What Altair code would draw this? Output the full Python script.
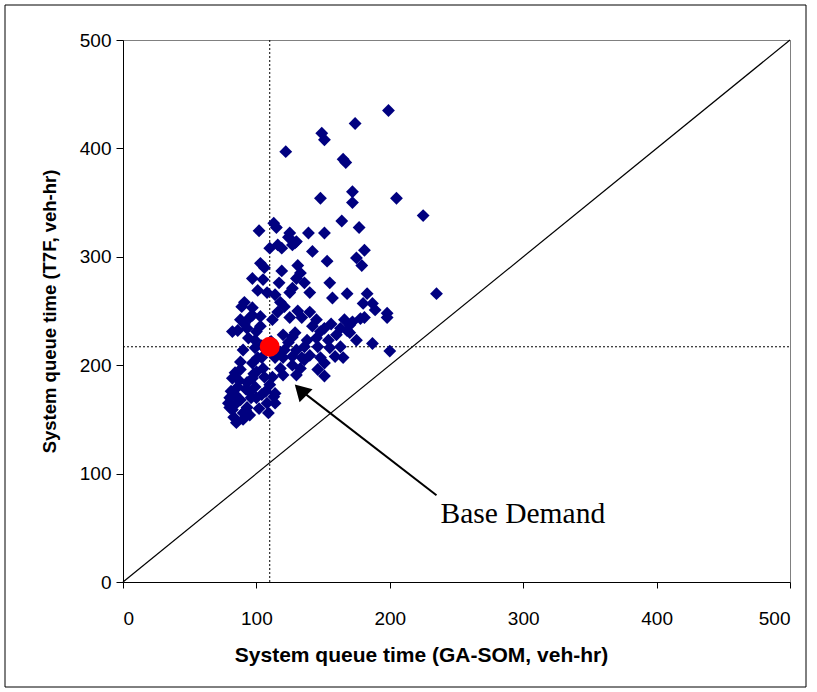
import altair as alt
import pandas as pd

# GA-SOM vs T7F system queue time (veh-hr)
ga_som = [199, 174, 149, 151, 122, 165, 167, 172, 148, 205, 172, 225, 164, 235,
          177, 102, 113, 115, 125, 124, 130, 139, 151, 116,
          110, 119, 127, 129, 142, 181, 153, 175, 179, 103, 106, 119, 131, 133,
          97, 105, 117, 130, 136, 155, 101, 108, 114, 125, 127, 140, 157, 168, 183,
          91, 89, 97, 118, 121, 116, 125, 134, 140, 145, 180, 187, 189, 198, 198,
          181, 166, 172, 88, 95, 103, 112, 82, 86, 93, 100, 94, 99, 129, 138, 148,
          151, 145, 154, 160, 163, 168, 170, 175, 187, 200, 163, 155, 146, 136,
          130, 121, 90, 99, 88, 97, 101, 105, 114, 120, 127, 134, 140, 148, 151,
          159, 165, 133, 127, 118, 120, 112, 106, 100, 97, 82, 86, 93, 99, 110,
          114, 104, 95, 84, 79, 88, 93, 108, 114, 82, 80, 90, 95, 109, 151, 130,
          85, 83, 90, 92, 80, 85, 102, 100, 104, 118, 124, 127, 104,
          103, 91, 97, 131, 111, 120, 88, 84, 92, 96, 107, 113, 87, 81, 98,
          142, 156, 170, 178, 136, 146]
t7f = [435, 423, 414, 408, 397, 390, 387, 360, 354, 354, 350, 338, 333, 266,
       327, 324, 331, 327, 322, 318, 314, 322, 322, 311,
       308, 308, 311, 313, 305, 306, 296, 299, 292, 294, 290, 287, 292, 285,
       280, 279, 276, 280, 276, 276, 269, 267, 265, 267, 271, 267, 262, 266, 266,
       258, 254, 253, 258, 254, 249, 244, 244, 249, 242, 257, 257, 251, 248, 244,
       244, 242, 240, 242, 244, 245, 242, 231, 232, 234, 231, 225, 223, 230, 223, 231,
       234, 225, 223, 228, 234, 232, 230, 223, 220, 213, 217, 216, 217, 217,
       214, 214, 214, 216, 203, 202, 207, 197, 207, 207, 208, 207, 209, 207, 202,
       208, 207, 197, 200, 197, 191, 189, 189, 194, 188, 188, 180, 184, 180, 182,
       174, 173, 175, 173, 165, 168, 161, 165, 165, 159, 161, 156, 154, 156, 190, 191,
       147, 152, 150, 158, 170, 165, 160, 170, 218, 212, 221, 226, 207,
       236, 238, 246, 250, 222, 228, 196, 193, 178, 170, 176, 171, 186, 176, 192,
       236, 238, 237, 243, 205, 196]

base_x = [110]
base_y = [217]

diag_x = [0, 500]
diag_y = [0, 500]

ref_x = [110]
ref_y = [217]

arrow_tail_x = [235]
arrow_tail_y = [80]
arrow_tip_x = [133]
arrow_tip_y = [177]

label_text = ["Base Demand"]
label_x = [238]
label_y = [63]

pts = pd.DataFrame({"ga": ga_som, "t7f": t7f})
base = pd.DataFrame({"ga": base_x, "t7f": base_y})
diag = pd.DataFrame({"ga": diag_x, "t7f": diag_y})
vref = pd.DataFrame({"x": ref_x * 2, "y": [0, 500]})
href = pd.DataFrame({"x": [0, 500], "y": ref_y * 2})
arr = pd.DataFrame({"x": arrow_tail_x + arrow_tip_x, "y": arrow_tail_y + arrow_tip_y})
head = pd.DataFrame({"x": arrow_tip_x, "y": arrow_tip_y})
lab = pd.DataFrame({"x": label_x, "y": label_y, "t": label_text})

xs = alt.Scale(domain=[0, 500], nice=False)
ys = alt.Scale(domain=[0, 500], nice=False)

xax = alt.Axis(values=[0, 100, 200, 300, 400, 500], grid=False, tickSize=6,
               labelPadding=21, titlePadding=16, title="System queue time (GA-SOM, veh-hr)",
               titleX=298, titleAlign="center",
               domainColor="black", tickColor="black", labelFont="Liberation Sans",
               labelFontSize=19, labelColor="black", titleFont="Liberation Sans",
               titleFontSize=21, titleFontWeight="bold", titleColor="black")
yax = alt.Axis(values=[0, 100, 200, 300, 400, 500], grid=False, tickSize=7,
               labelPadding=5, titlePadding=20, title="System queue time (T7F, veh-hr)",
               domainColor="black", tickColor="black", labelFont="Liberation Sans",
               labelFontSize=19, labelColor="black", titleFont="Liberation Sans",
               titleFontSize=18.5, titleFontWeight="bold", titleColor="black")

frame = alt.Chart(pd.DataFrame({"a": [0]})).mark_rect(
    fill=None, stroke="black", strokeWidth=1, clip=False
).encode(x=alt.value(-118), x2=alt.value(683), y=alt.value(-35), y2=alt.value(647))

scatter = alt.Chart(pts).mark_point(
    shape="diamond", filled=True, color="#000080", size=165, opacity=1
).encode(x=alt.X("ga:Q", scale=xs, axis=xax), y=alt.Y("t7f:Q", scale=ys, axis=yax))

diag_line = alt.Chart(diag).mark_line(color="black", strokeWidth=1.2).encode(
    x=alt.X("ga:Q", scale=xs), y=alt.Y("t7f:Q", scale=ys))

vline = alt.Chart(vref).mark_line(color="black", strokeWidth=1, strokeDash=[2, 2]).encode(
    x=alt.X("x:Q", scale=xs), y=alt.Y("y:Q", scale=ys))
hline = alt.Chart(href).mark_line(color="black", strokeWidth=1, strokeDash=[2, 2]).encode(
    x=alt.X("x:Q", scale=xs), y=alt.Y("y:Q", scale=ys))

base_pt = alt.Chart(base).mark_point(
    shape="circle", filled=True, color="#FF0000", size=400, opacity=1
).encode(x=alt.X("ga:Q", scale=xs), y=alt.Y("t7f:Q", scale=ys))

arrow_line = alt.Chart(arr).mark_line(color="black", strokeWidth=2).encode(
    x=alt.X("x:Q", scale=xs), y=alt.Y("y:Q", scale=ys))
arrow_head = alt.Chart(head).mark_point(
    shape="triangle-up", filled=True, color="black", size=340, opacity=1, angle=315
).encode(x=alt.X("x:Q", scale=xs), y=alt.Y("y:Q", scale=ys))

label = alt.Chart(lab).mark_text(
    font="Liberation Serif", fontSize=29.5, align="left", baseline="middle", color="black"
).encode(x=alt.X("x:Q", scale=xs), y=alt.Y("y:Q", scale=ys), text="t:N")

chart = alt.layer(
    frame, vline, hline, diag_line, scatter, base_pt, arrow_line, arrow_head, label
).properties(
    width=667, height=542,
    autosize=alt.AutoSizeParams(type="none"),
    padding={"left": 123, "top": 40, "right": 27, "bottom": 110},
    background="white",
).configure_view(stroke="#808080", strokeWidth=1)

chart.save("out.html", embed_options={"renderer": "svg", "actions": False})
